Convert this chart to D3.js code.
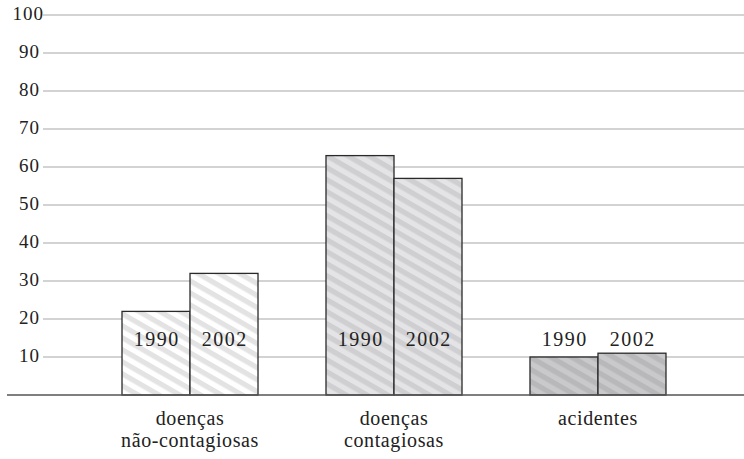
<!DOCTYPE html>
<html><head><meta charset="utf-8">
<script src="https://cdn.jsdelivr.net/npm/d3@7/dist/d3.min.js"></script>
<style>body{margin:0;background:#fff}svg{display:block}text{font-family:"Liberation Serif","DejaVu Serif",serif;fill:#222}</style>
</head><body><svg id="c" width="744" height="459"></svg>
<script>
const categories = [["doenças","não-contagiosas"],["doenças","contagiosas"],["acidentes"]];
const years = ["1990","2002"];
const values1990 = [22, 63, 10];
const values2002 = [32, 57, 11];
const yTicks = [10,20,30,40,50,60,70,80,90,100];

const svg = d3.select("#c");
const y = d3.scaleLinear().domain([0,100]).range([395,15]);
const x = d3.scaleBand().domain(d3.range(categories.length)).range([88,700]).paddingInner(0.3333).paddingOuter(0.1667);
const xi = d3.scaleBand().domain(years).range([0, x.bandwidth()]);

const pals = [["#ffffff","#e3e3e3"],["#e4e4e6","#cfcfd1"],["#c9c9cb","#b8b8ba"]];
const defs = svg.append("defs");
pals.forEach((p,i)=>{
  const pat = defs.append("pattern").attr("id","h"+i).attr("patternUnits","userSpaceOnUse")
    .attr("width",20).attr("height",10.4).attr("patternTransform","rotate(30)");
  pat.append("rect").attr("width",20).attr("height",10.4).attr("fill",p[0]);
  pat.append("rect").attr("width",20).attr("height",5.2).attr("fill",p[1]);
});

// grid
const g = svg.append("g");
g.selectAll("line.grid").data(yTicks).join("line").attr("class","grid")
  .attr("x1",43).attr("x2",744).attr("y1",d=>y(d)).attr("y2",d=>y(d))
  .attr("stroke","#c4c4c4").attr("stroke-width",1.5);
g.selectAll("text.tick").data(yTicks).join("text").attr("class","tick")
  .attr("x",d=>d===100?44:40).attr("y",d=>y(d)+5).attr("text-anchor","end")
  .attr("font-size",19).attr("letter-spacing",1).text(d=>d);

// bars
const data = [];
categories.forEach((c,i)=>{
  data.push({ci:i, yr:"1990", v:values1990[i]});
  data.push({ci:i, yr:"2002", v:values2002[i]});
});
svg.selectAll("rect.bar").data(data).join("rect").attr("class","bar")
  .attr("x",d=>x(d.ci)+xi(d.yr)).attr("width",xi.bandwidth())
  .attr("y",d=>y(d.v)).attr("height",d=>y(0)-y(d.v))
  .attr("fill",d=>`url(#h${d.ci})`).attr("stroke","#2a2a2a").attr("stroke-width",1.3);

svg.selectAll("text.yr").data(data).join("text").attr("class","yr")
  .attr("x",d=>x(d.ci)+xi(d.yr)+xi.bandwidth()/2+0.7).attr("y",346)
  .attr("text-anchor","middle").attr("font-size",20).attr("letter-spacing",1.5).text(d=>d.yr);

// baseline
svg.append("line").attr("x1",7).attr("x2",744).attr("y1",y(0)).attr("y2",y(0))
  .attr("stroke","#555").attr("stroke-width",1.5);

// category labels
categories.forEach((c,i)=>{
  const cx = x(i)+x.bandwidth()/2;
  c.forEach((line,j)=>svg.append("text").attr("text-anchor","middle").attr("font-size",20)
    .attr("letter-spacing",0.6).attr("x",cx).attr("y",425+j*22).text(line));
});
</script></body></html>
